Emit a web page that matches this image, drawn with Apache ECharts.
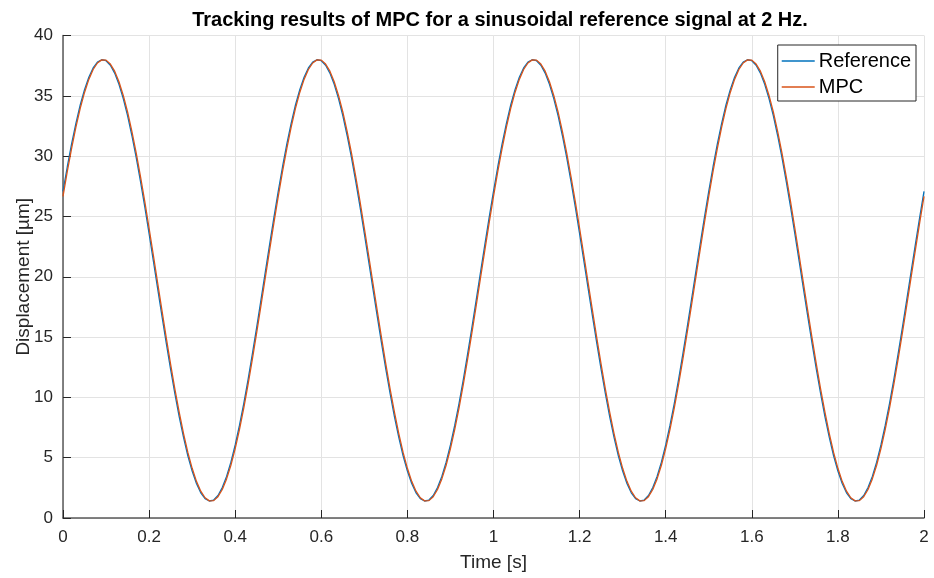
<!DOCTYPE html>
<html>
<head>
<meta charset="utf-8">
<script src="https://cdn.jsdelivr.net/npm/echarts@6/dist/echarts.min.js"></script>
<style>
html,body{margin:0;padding:0;background:#fff;}
#chart{width:934px;height:578px;}
</style>
</head>
<body>
<div id="chart"></div>
<script>
// Time stamps [s]
const time = [
0.00,0.01,0.02,0.03,0.04,0.05,0.06,0.07,0.08,0.09,0.10,0.11,0.12,0.13,0.14,0.15,0.16,0.17,0.18,0.19,0.20,0.21,0.22,0.23,0.24,
0.25,0.26,0.27,0.28,0.29,0.30,0.31,0.32,0.33,0.34,0.35,0.36,0.37,0.38,0.39,0.40,0.41,0.42,0.43,0.44,0.45,0.46,0.47,0.48,0.49,
0.50,0.51,0.52,0.53,0.54,0.55,0.56,0.57,0.58,0.59,0.60,0.61,0.62,0.63,0.64,0.65,0.66,0.67,0.68,0.69,0.70,0.71,0.72,0.73,0.74,
0.75,0.76,0.77,0.78,0.79,0.80,0.81,0.82,0.83,0.84,0.85,0.86,0.87,0.88,0.89,0.90,0.91,0.92,0.93,0.94,0.95,0.96,0.97,0.98,0.99,
1.00,1.01,1.02,1.03,1.04,1.05,1.06,1.07,1.08,1.09,1.10,1.11,1.12,1.13,1.14,1.15,1.16,1.17,1.18,1.19,1.20,1.21,1.22,1.23,1.24,
1.25,1.26,1.27,1.28,1.29,1.30,1.31,1.32,1.33,1.34,1.35,1.36,1.37,1.38,1.39,1.40,1.41,1.42,1.43,1.44,1.45,1.46,1.47,1.48,1.49,
1.50,1.51,1.52,1.53,1.54,1.55,1.56,1.57,1.58,1.59,1.60,1.61,1.62,1.63,1.64,1.65,1.66,1.67,1.68,1.69,1.70,1.71,1.72,1.73,1.74,
1.75,1.76,1.77,1.78,1.79,1.80,1.81,1.82,1.83,1.84,1.85,1.86,1.87,1.88,1.89,1.90,1.91,1.92,1.93,1.94,1.95,1.96,1.97,1.98,1.99,
2.00];

// Reference displacement [um]
const reference = [
27.08,29.12,31.01,32.72,34.24,35.51,36.54,37.31,37.79,37.99,37.91,37.53,36.88,35.95,34.77,33.35,31.71,29.89,27.90,25.79,23.57,21.30,19.00,16.72,14.48,
12.32,10.28,8.39,6.68,5.16,3.89,2.86,2.09,1.61,1.41,1.49,1.87,2.52,3.45,4.63,6.06,7.69,9.51,11.50,13.62,15.83,18.10,20.40,22.68,24.92,
27.08,29.12,31.01,32.72,34.24,35.51,36.54,37.31,37.79,37.99,37.91,37.53,36.88,35.95,34.77,33.35,31.71,29.89,27.90,25.79,23.57,21.30,19.00,16.72,14.48,
12.32,10.28,8.39,6.68,5.16,3.89,2.86,2.09,1.61,1.41,1.49,1.87,2.52,3.45,4.63,6.06,7.69,9.51,11.50,13.62,15.83,18.10,20.40,22.68,24.92,
27.08,29.12,31.01,32.72,34.24,35.51,36.54,37.31,37.79,37.99,37.91,37.53,36.88,35.95,34.77,33.35,31.71,29.89,27.90,25.79,23.57,21.30,19.00,16.72,14.48,
12.32,10.28,8.39,6.68,5.16,3.89,2.86,2.09,1.61,1.41,1.49,1.87,2.52,3.45,4.63,6.06,7.69,9.51,11.50,13.62,15.83,18.10,20.40,22.68,24.92,
27.08,29.12,31.01,32.72,34.24,35.51,36.54,37.31,37.79,37.99,37.91,37.53,36.88,35.95,34.77,33.35,31.71,29.89,27.90,25.79,23.57,21.30,19.00,16.72,14.48,
12.32,10.28,8.39,6.68,5.16,3.89,2.86,2.09,1.61,1.41,1.49,1.87,2.52,3.45,4.63,6.06,7.69,9.51,11.50,13.62,15.83,18.10,20.40,22.68,24.92,
27.08];

// MPC output displacement [um]
const mpc = [
26.66,28.73,30.65,32.40,33.96,35.28,36.36,37.18,37.72,37.98,37.96,37.63,37.04,36.16,35.03,33.66,32.06,30.27,28.31,26.22,24.02,21.76,19.46,17.17,14.92,
12.74,10.67,8.75,7.00,5.44,4.12,3.04,2.22,1.68,1.42,1.44,1.77,2.36,3.24,4.37,5.75,7.34,9.13,11.09,13.19,15.38,17.64,19.94,22.23,24.48,
26.66,28.73,30.65,32.40,33.96,35.28,36.36,37.18,37.72,37.98,37.96,37.63,37.04,36.16,35.03,33.66,32.06,30.27,28.31,26.22,24.02,21.76,19.46,17.17,14.92,
12.74,10.67,8.75,7.00,5.44,4.12,3.04,2.22,1.68,1.42,1.44,1.77,2.36,3.24,4.37,5.75,7.34,9.13,11.09,13.19,15.38,17.64,19.94,22.23,24.48,
26.66,28.73,30.65,32.40,33.96,35.28,36.36,37.18,37.72,37.98,37.96,37.63,37.04,36.16,35.03,33.66,32.06,30.27,28.31,26.22,24.02,21.76,19.46,17.17,14.92,
12.74,10.67,8.75,7.00,5.44,4.12,3.04,2.22,1.68,1.42,1.44,1.77,2.36,3.24,4.37,5.75,7.34,9.13,11.09,13.19,15.38,17.64,19.94,22.23,24.48,
26.66,28.73,30.65,32.40,33.96,35.28,36.36,37.18,37.72,37.98,37.96,37.63,37.04,36.16,35.03,33.66,32.06,30.27,28.31,26.22,24.02,21.76,19.46,17.17,14.92,
12.74,10.67,8.75,7.00,5.44,4.12,3.04,2.22,1.68,1.42,1.44,1.77,2.36,3.24,4.37,5.75,7.34,9.13,11.09,13.19,15.38,17.64,19.94,22.23,24.48,
26.66];

const seriesNames = ['Reference', 'MPC'];
const titleText = 'Tracking results of MPC for a sinusoidal reference signal at 2 Hz.';
const xName = 'Time [s]';
const yName = 'Displacement [µm]';

const pairs = (ys) => time.map((t, i) => [t, ys[i]]);

const FONT = '"Liberation Sans", Arial, Helvetica, sans-serif';
const TXT = '#262626';

const chart = echarts.init(document.getElementById('chart'), null, {renderer: 'canvas'});
chart.setOption({
  backgroundColor: '#ffffff',
  animation: false,
  title: {
    text: titleText,
    left: 495, textAlign: 'center', top: 5,
    textStyle: {fontFamily: FONT, fontSize: 20, fontWeight: 'bold', color: '#000'}
  },
  legend: {
    orient: 'vertical',
    right: 18, top: 45,
    data: seriesNames,
    icon: 'rect',
    itemWidth: 33, itemHeight: 1.5,
    itemGap: 6,
    padding: [6, 5, 4, 4],
    backgroundColor: '#fff',
    borderColor: '#262626', borderWidth: 1,
    textStyle: {fontFamily: FONT, fontSize: 20, color: '#000', padding: [0, 0, 0, -1]}
  },
  grid: {left: 63, right: 10, top: 35.5, bottom: 60, containLabel: false, outerBoundsMode: 'none'},
  xAxis: {
    type: 'value', min: 0, max: 2, interval: 0.2,
    name: xName, nameLocation: 'middle', nameGap: 35, nameMoveOverlap: false,
    nameTextStyle: {fontFamily: FONT, fontSize: 19, color: TXT},
    axisLine: {show: true, onZero: false, lineStyle: {color: '#5a5a5a', width: 1.5}},
    axisTick: {show: true, inside: true, length: 8, lineStyle: {color: '#262626', width: 1}},
    axisLabel: {fontFamily: FONT, fontSize: 17, color: TXT, margin: 11},
    splitLine: {show: true, lineStyle: {color: '#e3e3e3', width: 1}}
  },
  yAxis: {
    type: 'value', min: 0, max: 40, interval: 5,
    name: yName, nameLocation: 'middle', nameGap: 30, nameMoveOverlap: false,
    nameTextStyle: {fontFamily: FONT, fontSize: 19, color: TXT},
    axisLine: {show: true, lineStyle: {color: '#5a5a5a', width: 1.5}},
    axisTick: {show: true, inside: true, length: 8, lineStyle: {color: '#262626', width: 1}},
    axisLabel: {fontFamily: FONT, fontSize: 17, color: TXT, margin: 10},
    splitLine: {show: true, lineStyle: {color: '#e3e3e3', width: 1}}
  },
  series: [
    {name: seriesNames[0], type: 'line', data: pairs(reference), showSymbol: false, symbol: 'none',
     smooth: false, lineStyle: {color: '#0072BD', width: 1.3}, itemStyle: {color: '#0072BD'}},
    {name: seriesNames[1], type: 'line', data: pairs(mpc), showSymbol: false, symbol: 'none',
     smooth: false, lineStyle: {color: '#D95319', width: 1.3}, itemStyle: {color: '#D95319'}}
  ]
});
</script>
</body>
</html>
